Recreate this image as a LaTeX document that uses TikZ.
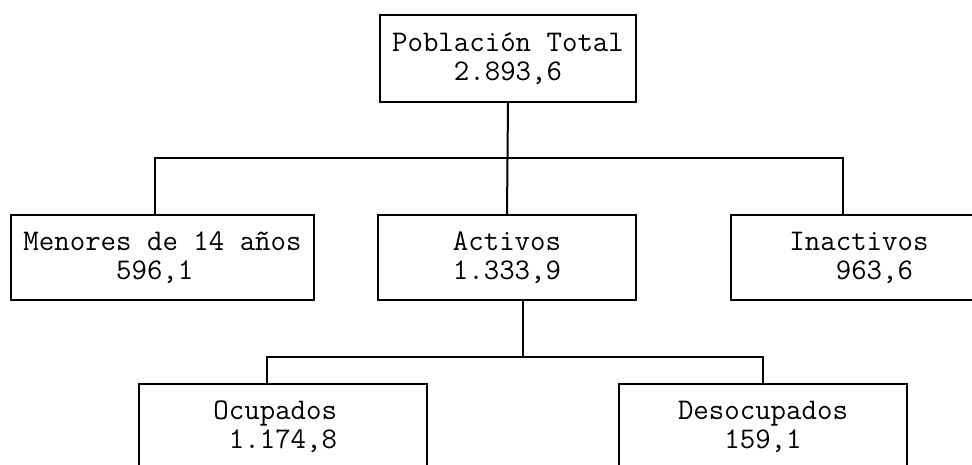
\documentclass[tikz,border=0pt]{standalone}
\begin{document}
\begin{tikzpicture}[x=1pt, y=-1pt,
    caja/.style={draw, line width=2pt, rectangle, inner sep=0pt,
                 minimum height=85pt, align=center,
                 font=\ttfamily\fontsize{30}{29}\selectfont},
    linea/.style={line width=2pt}]
    \clip (0,0) rectangle (972,464);
    \useasboundingbox (0,0) rectangle (972,464);

    % cajas
    \node[caja, minimum width=256pt, minimum height=87pt] (pob) at (508,58.5) {Población Total\\2.893,6};
    \node[caja, minimum width=303pt] (menores) at (162.5,257.5) {Menores de 14 años\\596,1\hphantom{0}};
    \node[caja, minimum width=258pt] (activos) at (507,257.5) {Activos\\1.333,9};
    \node[caja, minimum width=256pt] (inact) at (859,257.5) {Inactivos\\\hphantom{00}963,6};
    \node[caja, minimum width=288pt] (ocup) at (283,426.5) {Ocupados\hphantom{0}\\\hphantom{0}1.174,8\hphantom{0}};
    \node[caja, minimum width=288pt] (desoc) at (763,426.5) {Desocupados\\159,1};

    % conectores
    \coordinate (barra1) at (507,157.5);
    \coordinate (barra2) at (523,357);
    \draw[linea] (pob.south) -- (activos.north);
    \draw[linea] ([xshift=-7.5pt]menores.north) |- (barra1) -| ([xshift=-16pt]inact.north);
    \draw[linea] ([xshift=16pt]activos.south) -- (barra2);
    \draw[linea] ([xshift=-16pt]ocup.north) |- (barra2) -| (desoc.north);
\end{tikzpicture}
\end{document}
